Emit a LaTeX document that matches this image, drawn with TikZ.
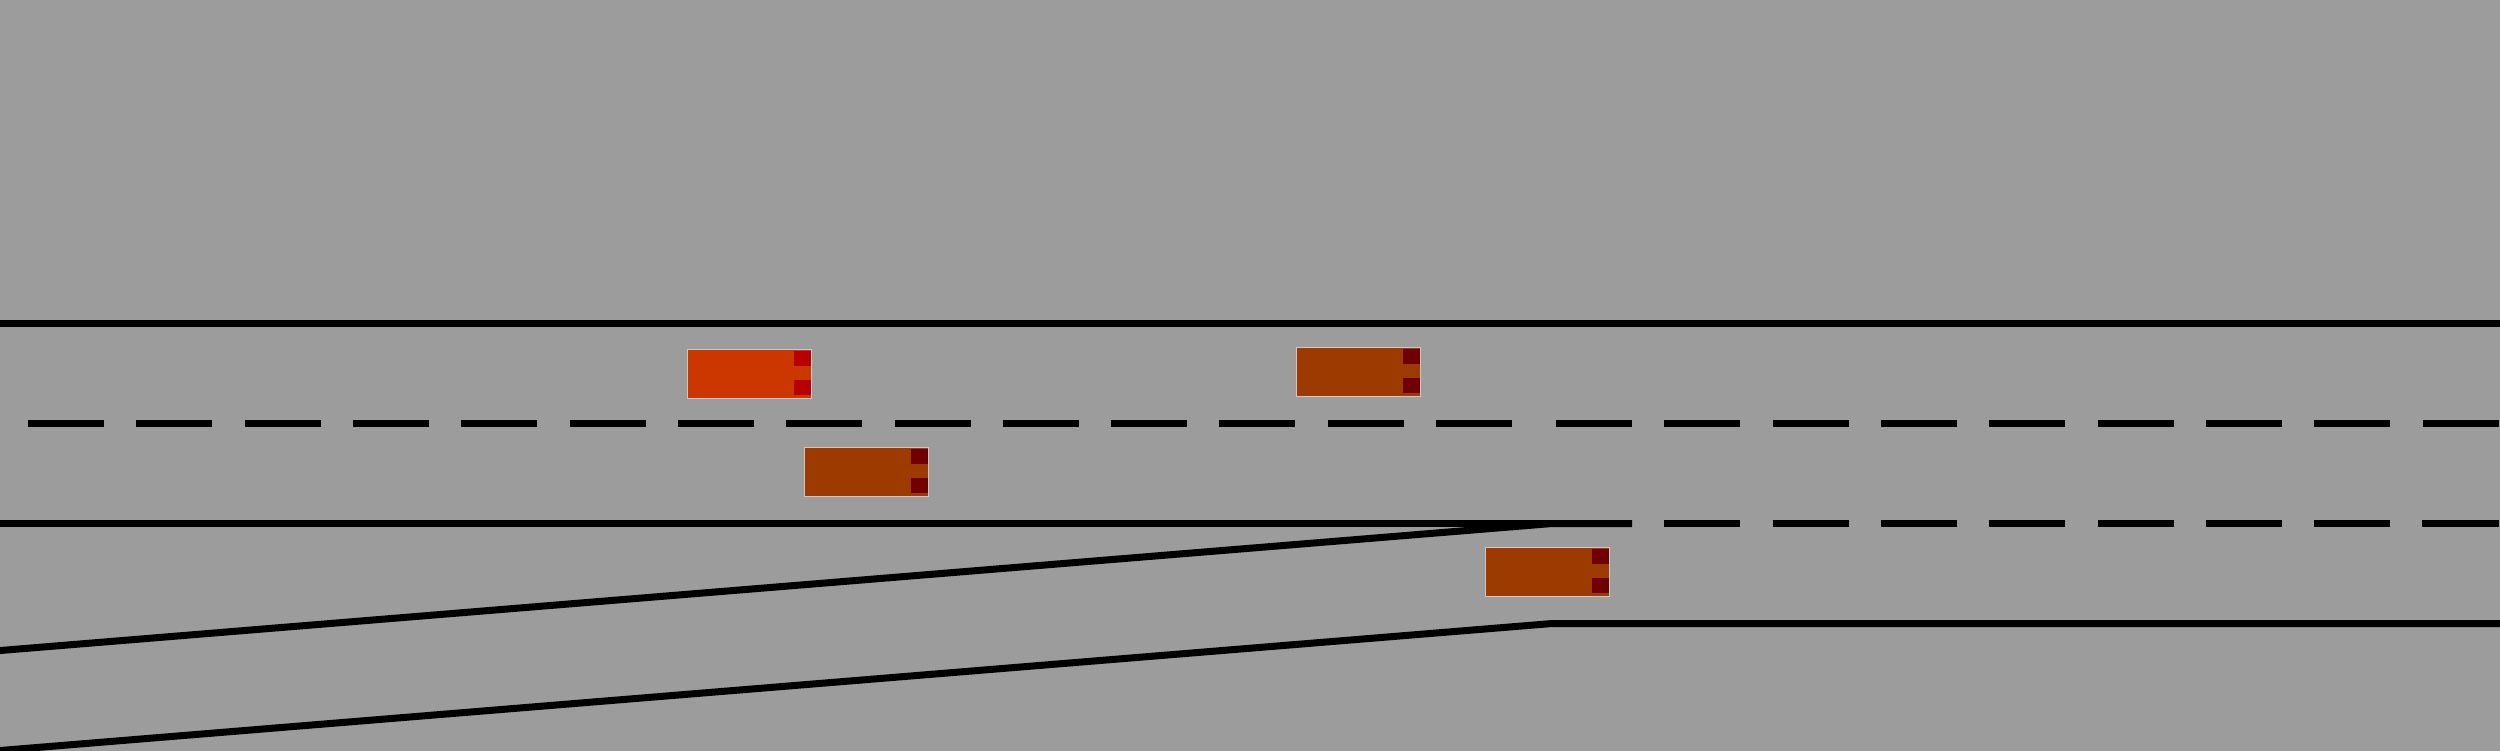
\documentclass[tikz,border=0pt]{standalone}
\definecolor{roadgrey}{HTML}{9C9C9C}
\definecolor{carred}{HTML}{CC3700}
\definecolor{carbrown}{HTML}{9C3A00}
\definecolor{lampred}{HTML}{B80000}
\definecolor{lampdark}{HTML}{700000}
\definecolor{caredge}{HTML}{C8C8C8}
\tikzset{
  roadline/.style={line width=0.07cm,black,line join=round},
  laneline/.style={line width=0.07cm,black,dash pattern=on 0.76cm off 0.3225cm},
  carbody/.style={draw=caredge,line width=0.01cm},
}
\newcommand{\drawcar}[4]{%
  \filldraw[carbody,fill=#3] (#1+0.5,#2+0.5) rectangle (#1+124.5,#2+49.5);
  \fill[#4] (#1+107,#2+2) rectangle (#1+124,#2+17);
  \fill[#4] (#1+107,#2+31) rectangle (#1+124,#2+46);
}
\begin{document}
\begin{tikzpicture}[x=0.01cm,y=-0.01cm]
\useasboundingbox (0,0) rectangle (2500,750);
\fill[roadgrey] (-20,-20) rectangle (2520,770);
\draw[roadline] (-10,323.5) -- (2510,323.5);
\draw[roadline] (-10,523.5) -- (1552,523.5);
\draw[roadline] (-10,651.32) -- (1552,523.5) -- (1632,523.5);
\draw[roadline] (-10,751.32) -- (1552,623.5) -- (2510,623.5);
\draw[laneline] (28,423.5) -- (1512,423.5);
\draw[laneline] (1556,423.5) -- (2499,423.5);
\draw[laneline] (1664.25,523.5) -- (2499,523.5);
\drawcar{687}{349}{carred}{lampred}
\drawcar{1296}{347}{carbrown}{lampdark}
\drawcar{804}{447}{carbrown}{lampdark}
\drawcar{1485}{547}{carbrown}{lampdark}
\end{tikzpicture}
\end{document}
